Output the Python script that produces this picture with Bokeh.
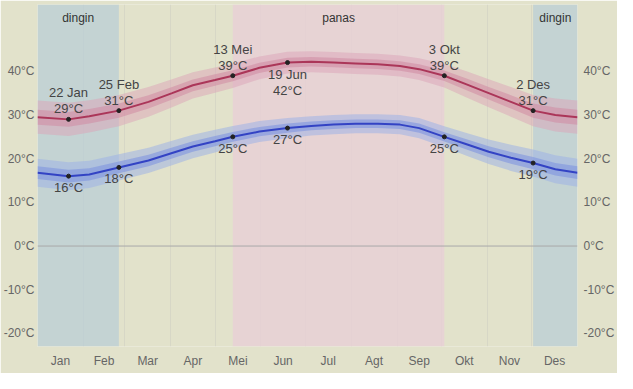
from bokeh.plotting import figure
from bokeh.models import FixedTicker, PrintfTickFormatter, LinearAxis, Range1d, BoxAnnotation, Span
from bokeh.core.properties import value
from bokeh.embed import file_html
from bokeh.resources import INLINE

# ---- data ----
day = [0, 21, 35, 55, 75, 91, 105, 120, 132, 150, 169, 185, 200, 215, 230, 245, 258, 275, 290, 305, 320, 335, 350, 365]
hi = [29.5, 29, 29.7, 31, 33, 35, 36.8, 38, 39, 40.8, 42, 42.2, 42, 41.8, 41.6, 41.2, 40.5, 39, 37, 35, 33, 31, 30, 29.5]
lo = [16.8, 16, 16.4, 18, 19.6, 21.3, 22.8, 24, 25, 26.2, 27, 27.5, 27.8, 28, 28, 27.8, 27, 25, 23.3, 21.6, 20.2, 19, 17.6, 16.8]
hi_spread = [3.8, 3.8, 3.7, 3.6, 3.4, 3.2, 3.0, 2.9, 2.8, 2.6, 2.5, 2.4, 2.4, 2.4, 2.4, 2.4, 2.5, 2.7, 3.0, 3.2, 3.4, 3.6, 3.8, 3.8]
lo_spread = [3.2, 3.2, 3.1, 3.0, 2.9, 2.8, 2.7, 2.6, 2.5, 2.4, 2.3, 2.2, 2.2, 2.2, 2.2, 2.2, 2.3, 2.4, 2.6, 2.8, 3.0, 3.1, 3.2, 3.2]

mark_day = [21, 55, 132, 169, 275, 335]
mark_date = ["22 Jan", "25 Feb", "13 Mei", "19 Jun", "3 Okt", "2 Des"]
mark_hi = [29, 31, 39, 42, 39, 31]
mark_lo = [16, 18, 25, 27, 25, 19]
hi_label_below = [False, False, False, True, False, False]

cold_seasons = [(0, 55), (335, 365)]
hot_season = (132, 275)
season_text = ["dingin", "panas", "dingin"]
season_x = [27.5, 203.5, 350]

month_mid = [15.5, 45, 74.5, 105, 135.5, 166, 196.5, 227.5, 258, 288.5, 319, 349.5]
month_start = [0, 31, 59, 90, 120, 151, 181, 212, 243, 273, 304, 334, 365]
month_names = ["Jan", "Feb", "Mar", "Apr", "Mei", "Jun", "Jul", "Agt", "Sep", "Okt", "Nov", "Des"]
y_ticks = [-20, -10, 0, 10, 20, 30, 40]

BG = "#e2e2cb"
FONT = "Liberation Sans"

p = figure(width=617, height=373, output_backend="svg", toolbar_location=None,
           x_range=Range1d(0, 365), y_range=Range1d(-23.0, 55.3),
           min_border_left=33, min_border_right=39, min_border_top=4, min_border_bottom=27)
p.background_fill_color = BG
p.border_fill_color = BG
p.outline_line_color = None

# season bands
for a, b in cold_seasons:
    p.add_layout(BoxAnnotation(left=a, right=b, fill_color="#b9cdd6", fill_alpha=0.75, line_color=None, level="underlay"))
p.add_layout(BoxAnnotation(left=hot_season[0], right=hot_season[1], fill_color="#e8cfd6", fill_alpha=0.8, line_color=None, level="underlay"))

# grids
p.ygrid.visible = False
p.xgrid.ticker = FixedTicker(ticks=month_start)
p.xgrid.grid_line_color = "#c4c4bc"
p.xgrid.grid_line_alpha = 0.35
p.add_layout(Span(location=0, dimension="width", line_color="#a9a9a9", line_width=1))

# bands
hi_o1 = [h - s for h, s in zip(hi, hi_spread)]
hi_o2 = [h + s for h, s in zip(hi, hi_spread)]
hi_i1 = [h - s * 0.45 for h, s in zip(hi, hi_spread)]
hi_i2 = [h + s * 0.45 for h, s in zip(hi, hi_spread)]
lo_o1 = [h - s for h, s in zip(lo, lo_spread)]
lo_o2 = [h + s for h, s in zip(lo, lo_spread)]
lo_i1 = [h - s * 0.45 for h, s in zip(lo, lo_spread)]
lo_i2 = [h + s * 0.45 for h, s in zip(lo, lo_spread)]

p.varea(x=day, y1=hi_o1, y2=hi_o2, fill_color="#dba3b8", fill_alpha=0.5)
p.varea(x=day, y1=hi_i1, y2=hi_i2, fill_color="#d08aa2", fill_alpha=0.55)
p.varea(x=day, y1=lo_o1, y2=lo_o2, fill_color="#9fb3e6", fill_alpha=0.55)
p.varea(x=day, y1=lo_i1, y2=lo_i2, fill_color="#7f95e0", fill_alpha=0.6)

p.line(day, hi, line_color="#ab3659", line_width=2)
p.line(day, lo, line_color="#3343c4", line_width=2)

p.scatter(mark_day, mark_hi, size=4, color="#222222")
p.scatter(mark_day, mark_lo, size=4, color="#222222")

# labels for max
above = [i for i, b in enumerate(hi_label_below) if not b]
below = [i for i, b in enumerate(hi_label_below) if b]
fmt = lambda v: "%d°C" % v
common = dict(text_font=value(FONT), text_font_size="13px", text_color="#444444", text_align="center")
p.text(x=[mark_day[i] for i in above], y=[mark_hi[i] for i in above], text=[fmt(mark_hi[i]) for i in above],
       text_baseline="bottom", y_offset=-3, **common)
p.text(x=[mark_day[i] for i in above], y=[mark_hi[i] for i in above], text=[mark_date[i] for i in above],
       text_baseline="bottom", y_offset=-19, **common)
p.text(x=[mark_day[i] for i in below], y=[mark_hi[i] for i in below], text=[mark_date[i] for i in below],
       text_baseline="top", y_offset=4, **common)
p.text(x=[mark_day[i] for i in below], y=[mark_hi[i] for i in below], text=[fmt(mark_hi[i]) for i in below],
       text_baseline="top", y_offset=20, **common)
p.text(x=mark_day, y=mark_lo, text=[fmt(v) for v in mark_lo], text_baseline="top", y_offset=4, **common)

# season labels
p.text(x=season_x, y=[52.3] * 3, text=season_text, text_baseline="middle", text_align="center",
       text_font=value(FONT), text_font_size="12px", text_color="#333333")

# axes
p.xaxis.ticker = FixedTicker(ticks=month_mid)
p.xaxis.major_label_overrides = {m: n for m, n in zip(month_mid, month_names)}
ry = LinearAxis(ticker=FixedTicker(ticks=y_ticks), formatter=PrintfTickFormatter(format="%d°C"))
p.add_layout(ry, "right")
p.yaxis[0].ticker = FixedTicker(ticks=y_ticks)
p.yaxis[0].formatter = PrintfTickFormatter(format="%d°C")
for ax in [p.xaxis[0], p.yaxis[0], ry]:
    ax.axis_line_color = None
    ax.major_tick_line_color = None
    ax.minor_tick_line_color = None
    ax.major_tick_out = 0
    ax.major_tick_in = 0
    ax.minor_tick_out = 0
    ax.minor_tick_in = 0
    ax.major_label_text_font = FONT
    ax.major_label_text_font_size = "12px"
    ax.major_label_text_color = "#666666"
p.xaxis[0].major_label_standoff = 7
p.yaxis[0].major_label_standoff = 3
ry.major_label_standoff = 6

html = file_html(p, INLINE)
html = html.replace("<body>", '<body style="background:%s">' % BG, 1)
open("out.html", "w").write(html)
